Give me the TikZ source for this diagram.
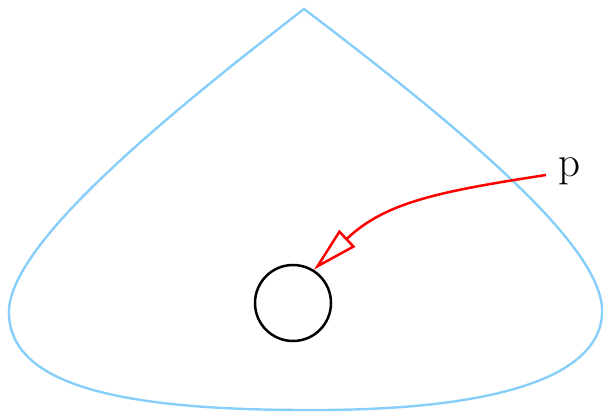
\documentclass[tikz,border=0pt]{standalone}
\usepackage{fontspec}
\usetikzlibrary{arrows.meta}
\definecolor{skyb}{HTML}{87CEFA}
\begin{document}
\begin{tikzpicture}[x=1pt,y=-1pt,
  outline/.style={draw=skyb,line width=2.4pt},
  ring/.style={circle,draw=black,line width=2.5pt,minimum size=76pt,inner sep=0pt},
  lbl/.style={font=\fontsize{43}{50}\selectfont,inner sep=0pt,anchor=base},
  link/.style={draw=red,line width=2.5pt,-{Triangle[open,length=46pt,width=23pt,line width=2.5pt]}}]
\useasboundingbox (0,0) rectangle (603,414);
\draw[outline] (304,9) .. controls (150,128) and (5,250) .. (9,315)
  .. controls (12,385) and (120,410) .. (306,410)
  .. controls (470,411) and (597,385) .. (602,315)
  .. controls (607,255) and (490,150) .. (304,9) -- cycle;
\node[ring] (c) at (293,303) {};
\node[lbl] (p) at (569.5,177) {p};
\coordinate (s) at (546,175);
\draw[link] (s) .. controls (435,192) and (385,203) .. (c.58);
\end{tikzpicture}
\end{document}
